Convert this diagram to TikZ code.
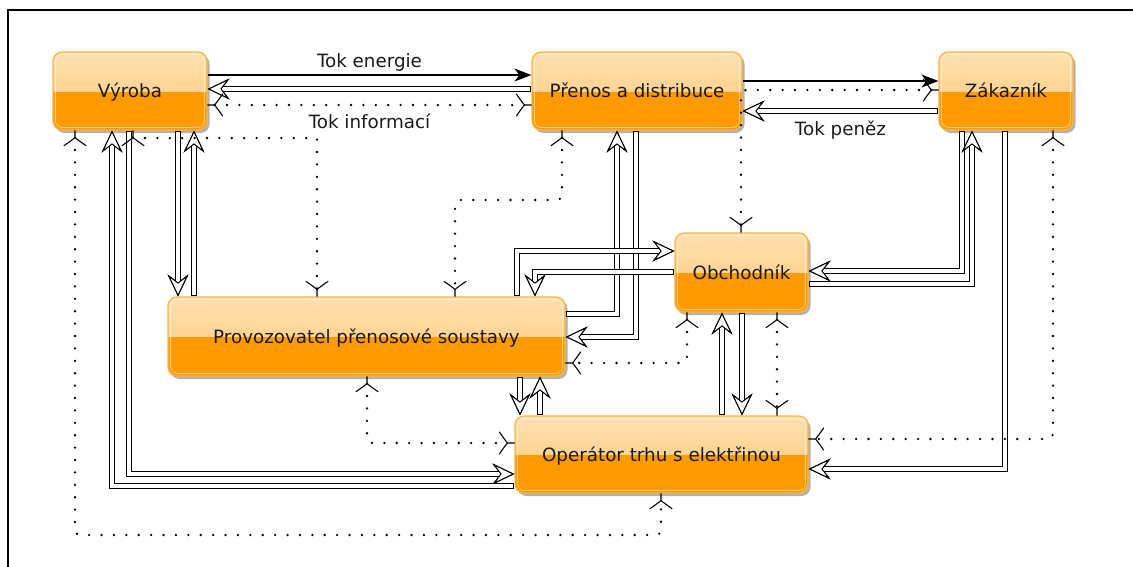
\documentclass[tikz,border=0pt]{standalone}
\usepackage{fontspec}
\setmainfont{DejaVu Sans}
\usetikzlibrary{arrows.meta,shadows}
\definecolor{boxborder}{HTML}{FFB442}
\definecolor{boxbottom}{HTML}{FF9A00}
\definecolor{boxtopA}{HTML}{FFE0B0}
\definecolor{boxtopB}{HTML}{FFC878}
\definecolor{txt}{HTML}{1A1A1A}
\pgfdeclarearrow{
  name = Fork,
  setup code = {
    \pgfarrowssettipend{0pt}
    \pgfarrowssetlineend{-7pt}
    \pgfarrowssetvisualbackend{-16pt}
    \pgfarrowssetbackend{-16pt}
    \pgfarrowshullpoint{0pt}{0pt}
    \pgfarrowsupperhullpoint{-16pt}{11pt}
  },
  drawing code = {
    \pgfsetdash{}{0pt}
    \pgfsetlinewidth{1.1pt}
    \pgfsetroundcap
    \pgfsetroundjoin
    \pgfpathmoveto{\pgfqpoint{0pt}{0pt}}
    \pgfpathlineto{\pgfqpoint{-7pt}{0pt}}
    \pgfpathcurveto{\pgfqpoint{-9pt}{2.5pt}}{\pgfqpoint{-12pt}{6.5pt}}{\pgfqpoint{-15pt}{11pt}}
    \pgfpathmoveto{\pgfqpoint{-7pt}{0pt}}
    \pgfpathcurveto{\pgfqpoint{-9pt}{-2.5pt}}{\pgfqpoint{-12pt}{-6.5pt}}{\pgfqpoint{-15pt}{-11pt}}
    \pgfusepathqstroke
  }
}
\begin{document}
\begin{tikzpicture}[x=1pt,y=-1pt,
  box/.style={rounded corners=9pt, draw=boxborder, line width=1.2pt, fill=boxbottom,
    drop shadow={shadow xshift=2.5pt, shadow yshift=-3pt, opacity=0.3, fill=black},
    path picture={
      \fill[sharp corners, top color=boxtopA, bottom color=boxtopB] (path picture bounding box.north west) rectangle (path picture bounding box.east);
      \draw[white, opacity=0.5, line width=0.8pt, rounded corners=7pt] ([xshift=2.5pt,yshift=-2.5pt]path picture bounding box.north west) rectangle ([xshift=-2.5pt,yshift=2.5pt]path picture bounding box.south east);
    },
    font=\fontsize{18.3}{22}\selectfont, text=txt, inner sep=0pt, text height=13.4pt, text depth=0pt},
  lbl/.style={font=\fontsize{18.3}{22}\selectfont, text=txt, inner sep=0pt, anchor=base},
  energy/.style={draw=black, line width=1.2pt, -{Stealth[length=17pt,width=13pt,inset=5pt]}},
  hollow/.style={-{Stealth[length=22pt,width=21pt,inset=8pt,line width=1pt,color=black,fill=white]}},
  money/.style={draw=black, line width=6pt, line cap=rect, shorten <=3pt, hollow,
    postaction={draw=white, line width=3.6pt, line cap=rect, shorten <=3pt, hollow}},
  info/.style={draw=black, line width=2.6pt, line cap=round, dash pattern=on 0pt off 12.4pt, rounded corners=5pt, {Fork}-{Fork}},
]
\useasboundingbox (0,0) rectangle (1133,566);
\draw[line width=1.6pt] (8,570) -- (8,10) -- (1140,10);

\node[box, minimum width=154pt, minimum height=78pt] (vyroba) at (130,91) {Výroba};
\node[box, minimum width=210pt, minimum height=78pt] (prenos) at (637,91) {Přenos a distribuce};
\node[box, minimum width=134pt, minimum height=78pt] (zak) at (1006,91) {Zákazník};
\node[box, minimum width=397pt, minimum height=79pt] (provoz) at (366.5,336.5) {Provozovatel přenosové soustavy};
\node[box, minimum width=133pt, minimum height=79pt] (obch) at (741.5,272.5) {Obchodník};
\node[box, minimum width=293pt, minimum height=77pt] (oper) at (661.5,454.5) {Operátor trhu s elektřinou};

% money flows
\draw[money] (prenos.west |- 0,89) -- (vyroba.east |- 0,89);
\draw[money] (zak.west |- 0,111) -- node[lbl, yshift=-24pt] (lP) {Tok peněz} (prenos.east |- 0,111);
\draw[money] (129,0 |- vyroba.south) |- (oper.west |- 0,474);
\draw[money] (oper.west |- 0,486) -| (112,0 |- vyroba.south);
\draw[money] (178,0 |- vyroba.south) -- (178,0 |- provoz.north);
\draw[money] (194,0 |- provoz.north) -- (194,0 |- vyroba.south);
\draw[money] (provoz.east |- 0,314) -| (617,0 |- prenos.south);
\draw[money] (636,0 |- prenos.south) |- (provoz.east |- 0,337);
\draw[money] (517,0 |- provoz.north) |- (obch.west |- 0,251);
\draw[money] (obch.west |- 0,272) -| (535,0 |- provoz.north);
\draw[money] (962,0 |- zak.south) |- (obch.east |- 0,271);
\draw[money] (obch.east |- 0,284) -| (972,0 |- zak.south);
\draw[money] (1005,0 |- zak.south) |- (oper.east |- 0,469);
\draw[money] (520,0 |- provoz.south) -- (520,0 |- oper.north);
\draw[money] (540,0 |- oper.north) -- (540,0 |- provoz.south);
\draw[money] (722,0 |- oper.north) -- (722,0 |- obch.south);
\draw[money] (742,0 |- obch.south) -- (742,0 |- oper.north);

% energy flows
\draw[energy] (vyroba.east |- 0,75) -- node[lbl, yshift=8pt] (lE) {Tok energie} (prenos.west |- 0,75);
\draw[energy] (prenos.east |- 0,81) -- (zak.west |- 0,81);

% information flows
\draw[info] (vyroba.east |- 0,105) -- node[lbl, yshift=-23pt] (lI) {Tok informací} (prenos.west |- 0,105);
\draw[info] (zak.west |- 0,90) -| (741,0 |- obch.north);
\draw[info, sharp corners] (133,0 |- vyroba.south) -- (133,138) -| (317,0 |- provoz.north);
\draw[info] (562,0 |- prenos.south) |- (455,200) -- (455,0 |- provoz.north);
\draw[info] (75,0 |- vyroba.south) |- (661,535) -- (661,0 |- oper.south);
\draw[info] (367,0 |- provoz.south) |- (oper.west |- 0,443);
\draw[info] (687,0 |- obch.south) |- (provoz.east |- 0,363);
\draw[info] (777,0 |- obch.south) -- (777,0 |- oper.north);
\draw[info] (1053,0 |- zak.south) |- (oper.east |- 0,439);
\end{tikzpicture}
\end{document}
